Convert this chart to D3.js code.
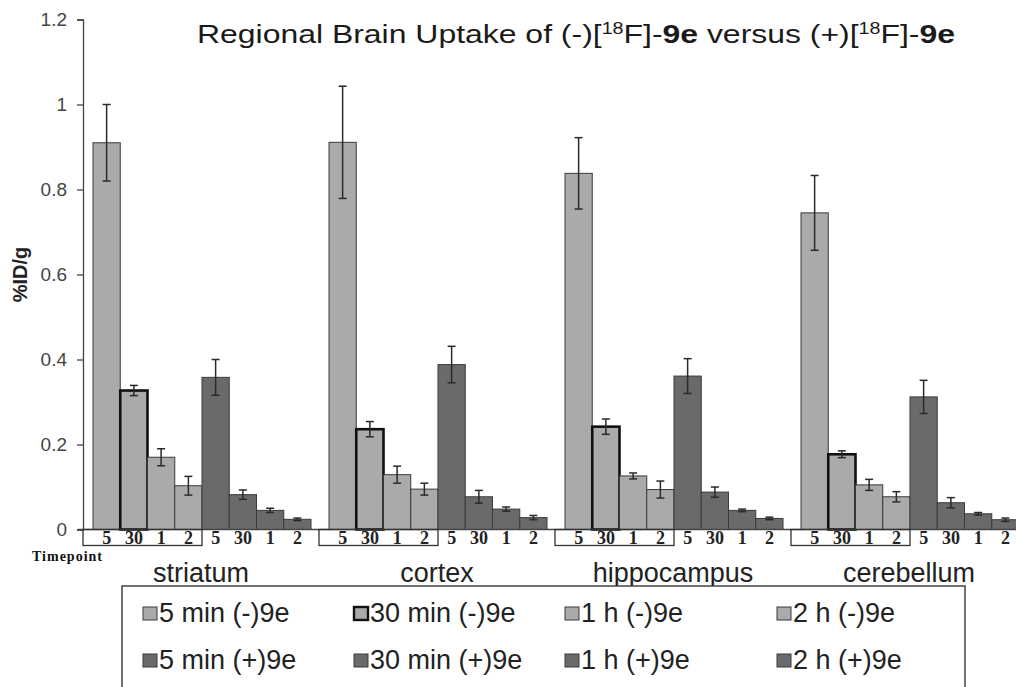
<!DOCTYPE html>
<meta charset="utf-8">
<html>
<head>
<script src="https://d3js.org/d3.v7.min.js"></script>
<style>
  body { margin: 0; background: #fff; }
  svg { display: block; }
  .sans { font-family: Arial, "Liberation Sans", sans-serif; }
  .serif { font-family: "Times New Roman", "Liberation Serif", serif; }
</style>
</head>
<body>
<div id="chart"></div>
<script>
  // regions along the x axis
  const regions = ["striatum", "cortex", "hippocampus", "cerebellum"];

  // series (timepoint x enantiomer)
  const seriesKeys = ["m5neg", "m30neg", "h1neg", "h2neg", "m5pos", "m30pos", "h1pos", "h2pos"];
  const seriesNames = ["5 min (-)9e", "30 min (-)9e", "1 h (-)9e", "2 h (-)9e",
                       "5 min (+)9e", "30 min (+)9e", "1 h (+)9e", "2 h (+)9e"];
  const timeLabels = ["5", "30", "1", "2", "5", "30", "1", "2"];

  // %ID/g means, one array per region, in seriesKeys order
  const striatum    = [0.910, 0.327, 0.170, 0.103, 0.358, 0.082, 0.045, 0.024];
  const cortex      = [0.911, 0.236, 0.129, 0.095, 0.388, 0.077, 0.048, 0.028];
  const hippocampus = [0.838, 0.242, 0.126, 0.094, 0.361, 0.088, 0.045, 0.026];
  const cerebellum  = [0.745, 0.177, 0.105, 0.077, 0.312, 0.063, 0.037, 0.023];

  // error bar half widths
  const striatumErr    = [0.090, 0.012, 0.020, 0.022, 0.042, 0.011, 0.005, 0.003];
  const cortexErr      = [0.132, 0.018, 0.020, 0.014, 0.043, 0.015, 0.005, 0.005];
  const hippocampusErr = [0.084, 0.018, 0.007, 0.020, 0.041, 0.012, 0.003, 0.003];
  const cerebellumErr  = [0.088, 0.008, 0.013, 0.012, 0.039, 0.012, 0.003, 0.004];

  const yTicks = [0, 0.2, 0.4, 0.6, 0.8, 1, 1.2];

  const means = [striatum, cortex, hippocampus, cerebellum];
  const errs = [striatumErr, cortexErr, hippocampusErr, cerebellumErr];

  // flat table for drawing
  const rows = [];
  regions.forEach((r, i) => {
    seriesKeys.forEach((k, j) => {
      rows.push({region: r, key: k, idx: j, value: means[i][j], err: errs[i][j]});
    });
  });

  const W = 1016, H = 687;
  const lightFill = "#aaaaaa", darkFill = "#6a6a6a";
  const fillFor = j => j < 4 ? lightFill : darkFill;

  const svg = d3.select("#chart").append("svg")
    .attr("width", W)
    .attr("height", H);

  // scales
  const x0 = d3.scaleBand()
    .domain(regions)
    .range([83, 83 + 236 * 4])
    .padding(0);
  const x1 = d3.scaleBand()
    .domain(seriesKeys)
    .range([10, 228])
    .padding(0);
  const y = d3.scaleLinear()
    .domain([0, 1.2])
    .range([529.5, 19.5]);

  // y axis
  const yAxis = svg.append("g")
    .attr("transform", "translate(83,0)")
    .call(d3.axisLeft(y).tickValues(yTicks).tickSize(6).tickPadding(10)
      .tickFormat(d => String(+d.toFixed(1))));
  yAxis.select(".domain").attr("stroke", "#444").attr("stroke-width", 1.3);
  yAxis.selectAll(".tick line").attr("stroke", "#444").attr("stroke-width", 1.3);
  yAxis.selectAll(".tick text")
    .attr("class", "sans")
    .style("font-size", "19px")
    .attr("fill", "#444");

  svg.append("text")
    .attr("class", "sans")
    .attr("transform", `translate(27,${y(0.6)}) rotate(-90)`)
    .attr("text-anchor", "middle")
    .style("font-size", "20px")
    .style("font-weight", "bold")
    .attr("fill", "#222")
    .text("%ID/g");

  // bars
  const groups = svg.append("g");
  groups.selectAll("rect.bar")
    .data(rows)
    .join("rect")
      .attr("class", "bar")
      .attr("x", d => x0(d.region) + x1(d.key))
      .attr("y", d => y(d.value))
      .attr("width", x1.bandwidth())
      .attr("height", d => y(0) - y(d.value))
      .attr("fill", d => fillFor(d.idx))
      .attr("stroke", d => d.key === "m30neg" ? "#111" : "#3a3a3a")
      .attr("stroke-width", d => d.key === "m30neg" ? 2.6 : 1);

  // error bars
  const eb = groups.selectAll("g.err")
    .data(rows)
    .join("g")
      .attr("class", "err")
      .attr("transform", d => `translate(${x0(d.region) + x1(d.key) + x1.bandwidth() / 2},0)`)
      .attr("stroke", "#2a2a2a")
      .attr("stroke-width", 1.5);
  eb.append("line")
    .attr("y1", d => y(d.value + d.err))
    .attr("y2", d => y(d.value - d.err));
  eb.append("line")
    .attr("x1", -4).attr("x2", 4)
    .attr("y1", d => y(d.value + d.err))
    .attr("y2", d => y(d.value + d.err));
  eb.append("line")
    .attr("x1", -4).attr("x2", 4)
    .attr("y1", d => y(d.value - d.err))
    .attr("y2", d => y(d.value - d.err));

  // baseline
  svg.append("line")
    .attr("x1", 78).attr("x2", W)
    .attr("y1", y(0)).attr("y2", y(0))
    .attr("stroke", "#444").attr("stroke-width", 1.3);

  // timepoint boxes under the (-) bars
  svg.selectAll("rect.tbox")
    .data(regions)
    .join("rect")
      .attr("class", "tbox")
      .attr("x", d => x0(d))
      .attr("y", y(0))
      .attr("width", d => x1("h2neg") + x1.bandwidth())
      .attr("height", 16)
      .attr("fill", "none")
      .attr("stroke", "#333")
      .attr("stroke-width", 1.3);

  svg.selectAll("text.tp")
    .data(rows)
    .join("text")
      .attr("class", "tp serif")
      .attr("x", d => x0(d.region) + x1(d.key) + x1.bandwidth() / 2)
      .attr("y", 544)
      .attr("text-anchor", "middle")
      .style("font-size", "18px")
      .style("font-weight", "bold")
      .attr("fill", "#222")
      .text(d => timeLabels[d.idx]);

  svg.append("text")
    .attr("class", "serif")
    .attr("x", 32)
    .attr("y", 561)
    .style("font-size", "14px")
    .style("font-weight", "bold")
    .attr("textLength", 70)
    .attr("fill", "#111")
    .text("Timepoint");

  // region labels
  svg.selectAll("text.region")
    .data(regions)
    .join("text")
      .attr("class", "region sans")
      .attr("x", d => x0(d) + x0.bandwidth() / 2)
      .attr("y", 582)
      .attr("text-anchor", "middle")
      .style("font-size", "27px")
      .attr("fill", "#222")
      .text(d => d);

  // title
  const title = svg.append("text")
    .attr("class", "sans")
    .attr("x", 197)
    .attr("y", 43)
    .attr("textLength", 758)
    .attr("lengthAdjust", "spacingAndGlyphs")
    .style("font-size", "26px")
    .attr("fill", "#1a1a1a");
  const parts = [
    ["Regional Brain Uptake of (-)[", ""], ["18", "sup"], ["F]-", ""], ["9e", "b"],
    [" versus (+)[", ""], ["18", "sup"], ["F]-", ""], ["9e", "b"]
  ];
  let prevSup = false;
  parts.forEach(([t, kind]) => {
    const ts = title.append("tspan").text(t);
    if (kind === "sup") {
      ts.attr("dy", -9).style("font-size", "16px");
      prevSup = true;
    } else {
      if (prevSup) ts.attr("dy", 9);
      prevSup = false;
      if (kind === "b") ts.style("font-weight", "bold");
    }
  });

  // legend
  svg.append("rect")
    .attr("x", 122).attr("y", 586)
    .attr("width", 843).attr("height", 120)
    .attr("fill", "#fff")
    .attr("stroke", "#444")
    .attr("stroke-width", 1.5);

  const legX = [143, 354, 565, 777];
  const legY = [607, 654];
  const leg = svg.selectAll("g.leg")
    .data(seriesKeys)
    .join("g")
      .attr("class", "leg")
      .attr("transform", (d, i) => `translate(${legX[i % 4]},${legY[Math.floor(i / 4)]})`);
  leg.append("rect")
    .attr("width", 14).attr("height", 13)
    .attr("fill", (d, i) => fillFor(i))
    .attr("stroke", (d, i) => i === 1 ? "#111" : "#3a3a3a")
    .attr("stroke-width", (d, i) => i === 1 ? 2.4 : 1);
  leg.append("text")
    .attr("class", "sans")
    .attr("x", 16)
    .attr("y", 15)
    .style("font-size", "27px")
    .attr("fill", "#222")
    .text((d, i) => seriesNames[i]);
</script>
</body>
</html>
